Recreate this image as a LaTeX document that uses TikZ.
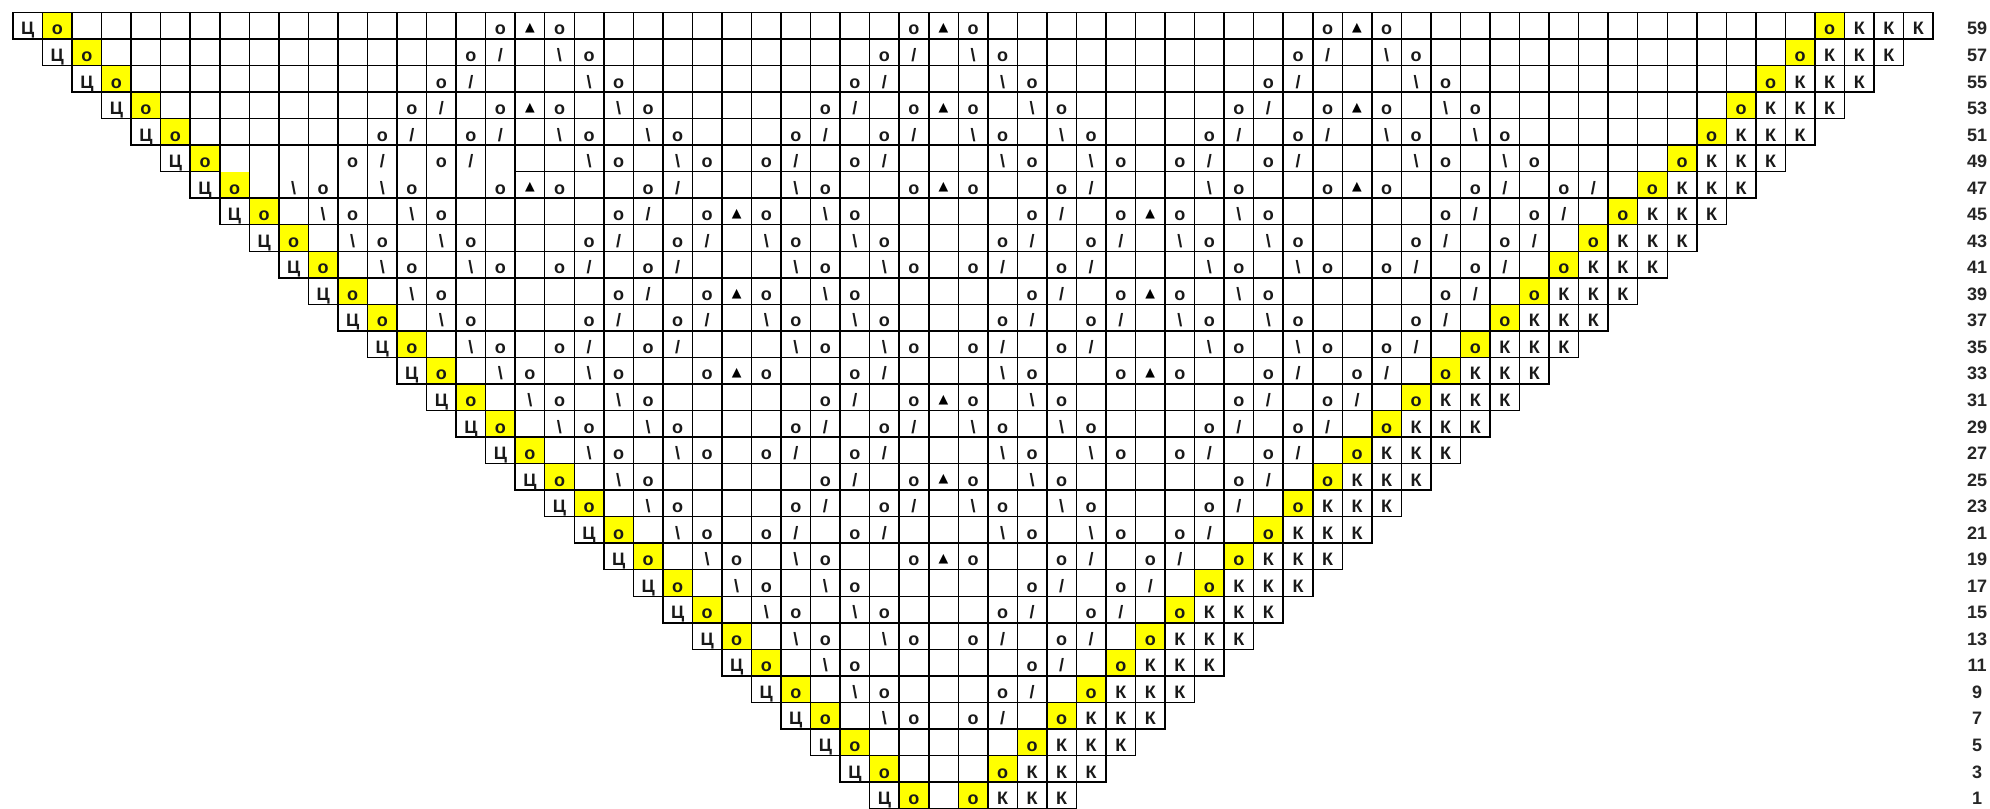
\documentclass[tikz,border=0pt]{standalone}
\usepackage{fontspec}
\setmainfont{Liberation Sans}
\newfontfamily\symfont{DejaVu Sans}
\definecolor{cellyellow}{HTML}{FFFF00}
\tikzset{
  gridline/.style={draw=black, line width=0.75pt, line cap=rect},
  yellowcell/.style={fill=cellyellow},
  celltext/.style={inner sep=0pt, anchor=base, font=\bfseries\fontsize{9}{10}\selectfont, text=black!90},
  celltri/.style={inner sep=0pt, anchor=center, font=\symfont\fontsize{6.3}{7}\selectfont},
  rowlabel/.style={inner sep=0pt, anchor=base, font=\bfseries\fontsize{9}{10}\selectfont, text=black!85},
}
% place a text in row #1 (0 = top), column #2
\newcommand\placetxt[3]{\node[celltext] (n-#1-#2) at ({13+29.54*(#2+0.5)},{795.6-26.54*(#1+1)+4}) {#3};}
\newcommand\placetri[2]{\node[celltri] (n-#1-#2) at ({13+29.54*(#2+0.5)},{795.6-26.54*(#1+1)+10.6}) {▲};}
% o /  at columns c, c+1
\newcommand\patP[2]{\placetxt{#1}{#2}{o}\pgfmathtruncatemacro\nxtcol{#2+1}\placetxt{#1}{\nxtcol}{/}}
% \ o  at columns c, c+1
\newcommand\patQ[2]{\placetxt{#1}{#2}{\textbackslash}\pgfmathtruncatemacro\nxtcol{#2+1}\placetxt{#1}{\nxtcol}{o}}
% o triangle o centred at column c
\newcommand\patT[2]{\pgfmathtruncatemacro\prvcol{#2-1}\pgfmathtruncatemacro\nxtcol{#2+1}\placetxt{#1}{\prvcol}{o}\placetri{#1}{#2}\placetxt{#1}{\nxtcol}{o}}
\newcommand\patrow[2]{\foreach \pk/\pc in {#2}{\csname pat\pk\endcsname{#1}{\pc}}}
\begin{document}
\begin{tikzpicture}[x=0.5pt,y=0.5pt]
\useasboundingbox (0,0) rectangle (1990,808);
\clip (0,0) rectangle (1990,808);
\fill[white] (0,0) rectangle (1990,808);
% yellow cells
\foreach \i in {0,...,29}{
  \fill[yellowcell] ({13+29.54*(\i+1)},{795.6-26.54*(\i+1)}) rectangle ++(29.54,26.54);
  \fill[yellowcell] ({13+29.54*(61-\i)},{795.6-26.54*(\i+1)}) rectangle ++(29.54,26.54);
}
% horizontal grid lines
\draw[gridline] ({13},{795.6}) -- ({13+29.54*65},{795.6});
\foreach \k in {1,...,30}{
  \ifnum\k=6
    \draw[gridline] ({13+29.54*5},{795.6-26.54*6}) -- ({13+29.54*7},{795.6-26.54*6});
    \draw[gridline] ({13+29.54*17},{795.6-26.54*6}) -- ({13+29.54*60},{795.6-26.54*6});
  \else
    \draw[gridline] ({13+29.54*(\k-1)},{795.6-26.54*\k}) -- ({13+29.54*(66-\k)},{795.6-26.54*\k});
  \fi
}
% vertical grid lines
\foreach \i in {0,...,29}{
  \pgfmathtruncatemacro\cend{65-\i}
  \foreach \c in {\i,...,\cend}{
    \draw[gridline] ({13+29.54*\c},{795.6-26.54*\i}) -- ++(0,-26.54);
  }
}
% fixed cells of every row and row numbers
\foreach \i in {0,...,29}{
  \pgfmathtruncatemacro\ca{\i+1}
  \pgfmathtruncatemacro\cb{61-\i}
  \pgfmathtruncatemacro\cc{62-\i}
  \pgfmathtruncatemacro\cd{63-\i}
  \pgfmathtruncatemacro\ce{64-\i}
  \pgfmathtruncatemacro\rn{59-2*\i}
  \placetxt{\i}{\i}{Ц}
  \placetxt{\i}{\ca}{o}
  \placetxt{\i}{\cb}{o}
  \placetxt{\i}{\cc}{К}
  \placetxt{\i}{\cd}{К}
  \placetxt{\i}{\ce}{К}
  \node[rowlabel] (lab-\i) at (1977,{795.6-26.54*(\i+1)+4}) {\rn};
}
% lace pattern
\patrow{0}{T/17,T/31,T/45}
\patrow{1}{P/15,Q/18,P/29,Q/32,P/43,Q/46}
\patrow{2}{P/14,Q/19,P/28,Q/33,P/42,Q/47}
\patrow{3}{P/13,T/17,Q/20,P/27,T/31,Q/34,P/41,T/45,Q/48}
\patrow{4}{P/12,P/15,Q/18,Q/21,P/26,P/29,Q/32,Q/35,P/40,P/43,Q/46,Q/49}
\patrow{5}{P/11,P/14,Q/19,Q/22,P/25,P/28,Q/33,Q/36,P/39,P/42,Q/47,Q/50}
\patrow{6}{Q/9,Q/12,T/17,P/21,Q/26,T/31,P/35,Q/40,T/45,P/49,P/52}
\patrow{7}{Q/10,Q/13,P/20,T/24,Q/27,P/34,T/38,Q/41,P/48,P/51}
\patrow{8}{Q/11,Q/14,P/19,P/22,Q/25,Q/28,P/33,P/36,Q/39,Q/42,P/47,P/50}
\patrow{9}{Q/12,Q/15,P/18,P/21,Q/26,Q/29,P/32,P/35,Q/40,Q/43,P/46,P/49}
\patrow{10}{Q/13,P/20,T/24,Q/27,P/34,T/38,Q/41,P/48}
\patrow{11}{Q/14,P/19,P/22,Q/25,Q/28,P/33,P/36,Q/39,Q/42,P/47}
\patrow{12}{Q/15,P/18,P/21,Q/26,Q/29,P/32,P/35,Q/40,Q/43,P/46}
\patrow{13}{Q/16,Q/19,T/24,P/28,Q/33,T/38,P/42,P/45}
\patrow{14}{Q/17,Q/20,P/27,T/31,Q/34,P/41,P/44}
\patrow{15}{Q/18,Q/21,P/26,P/29,Q/32,Q/35,P/40,P/43}
\patrow{16}{Q/19,Q/22,P/25,P/28,Q/33,Q/36,P/39,P/42}
\patrow{17}{Q/20,P/27,T/31,Q/34,P/41}
\patrow{18}{Q/21,P/26,P/29,Q/32,Q/35,P/40}
\patrow{19}{Q/22,P/25,P/28,Q/33,Q/36,P/39}
\patrow{20}{Q/23,Q/26,T/31,P/35,P/38}
\patrow{21}{Q/24,Q/27,P/34,P/37}
\patrow{22}{Q/25,Q/28,P/33,P/36}
\patrow{23}{Q/26,Q/29,P/32,P/35}
\patrow{24}{Q/27,P/34}
\patrow{25}{Q/28,P/33}
\patrow{26}{Q/29,P/32}
\end{tikzpicture}
\end{document}
